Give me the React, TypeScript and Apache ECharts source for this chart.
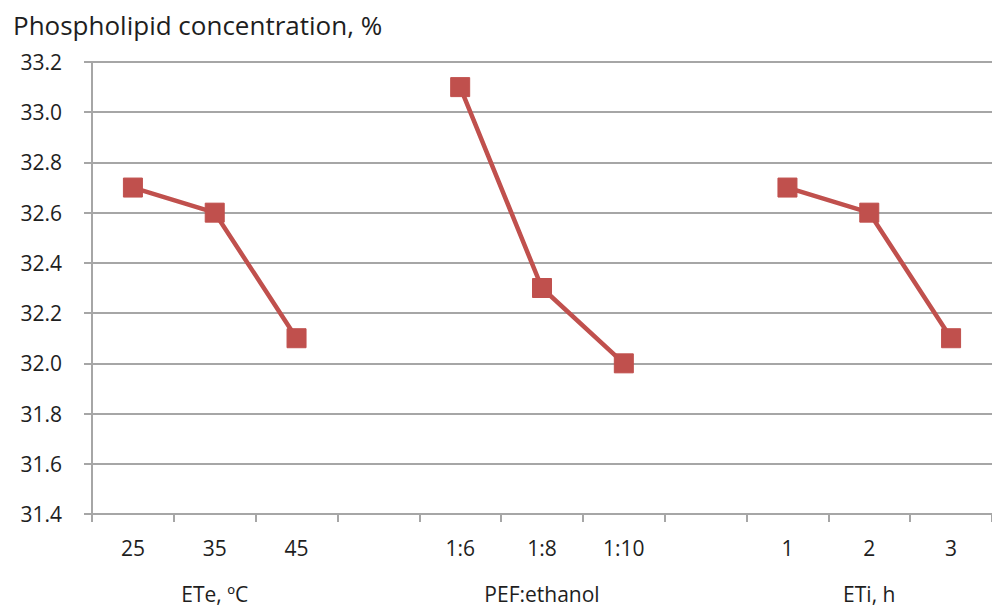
import React, { useEffect, useRef } from "react";
import * as echarts from "echarts";

const titleText = "Phospholipid concentration, %";
const categories = ["25", "35", "45", "", "1:6", "1:8", "1:10", "", "1", "2", "3"];
const groupLabels = ["", "ETe, ºC", "", "", "", "PEF:ethanol", "", "", "", "ETi, h", ""];
const values: (number | null)[] = [32.7, 32.6, 32.1, null, 33.1, 32.3, 32.0, null, 32.7, 32.6, 32.1];
const yMin = 31.4;
const yMax = 33.2;
const yStep = 0.2;

export default function App() {
  const ref = useRef<HTMLDivElement>(null);
  useEffect(() => {
    if (!ref.current) return;
    const chart = echarts.init(ref.current, null, { renderer: "svg" });
    const font = "'Open Sans', 'Noto Sans', sans-serif";
    const gray = "#a6a6a6";
    const textColor = "#1e1e1e";
    chart.setOption({
      animation: false,
      title: {
        text: titleText,
        left: 8,
        top: 7,
        textStyle: { fontFamily: font, fontSize: 26, fontWeight: "normal", color: textColor },
      },
      grid: { left: 92, top: 62, bottom: 94, right: -10, containLabel: false },
      xAxis: [
        {
          type: "category",
          data: categories,
          position: "bottom",
          boundaryGap: true,
          axisLine: { show: true, lineStyle: { color: gray, width: 2 } },
          axisTick: { show: true, length: 8, lineStyle: { color: gray, width: 2 }, alignWithLabel: false },
          axisLabel: { margin: 23, fontFamily: font, fontSize: 21, color: textColor, interval: 0 },
          splitLine: { show: false },
        },
        {
          type: "category",
          data: groupLabels,
          position: "bottom",
          offset: 47,
          boundaryGap: true,
          axisLine: { show: false },
          axisTick: { show: false },
          axisLabel: { margin: 22, fontFamily: font, fontSize: 21, color: textColor, interval: 0 },
          splitLine: { show: false },
        },
      ],
      yAxis: {
        type: "value",
        min: yMin,
        max: yMax,
        interval: yStep,
        axisLine: { show: true, lineStyle: { color: gray, width: 2 } },
        axisTick: { show: true, length: 8, lineStyle: { color: gray, width: 2 } },
        axisLabel: {
          margin: 30,
          fontFamily: font,
          fontSize: 21,
          color: textColor,
          formatter: (v: number) => v.toFixed(1),
        },
        splitLine: { show: true, lineStyle: { color: gray, width: 2 } },
      },
      series: [
        {
          type: "line",
          xAxisIndex: 0,
          data: values,
          connectNulls: false,
          symbol: "rect",
          symbolSize: 19,
          lineStyle: { color: "#C0504D", width: 4.5 },
          itemStyle: { color: "#C0504D", borderColor: "#C0504D" },
        },
      ],
    });
    return () => chart.dispose();
  }, []);
  return (
    <div
      ref={ref}
      style={{ position: "fixed", left: 0, top: 0, width: 992, height: 608, background: "#fff" }}
    />
  );
}
